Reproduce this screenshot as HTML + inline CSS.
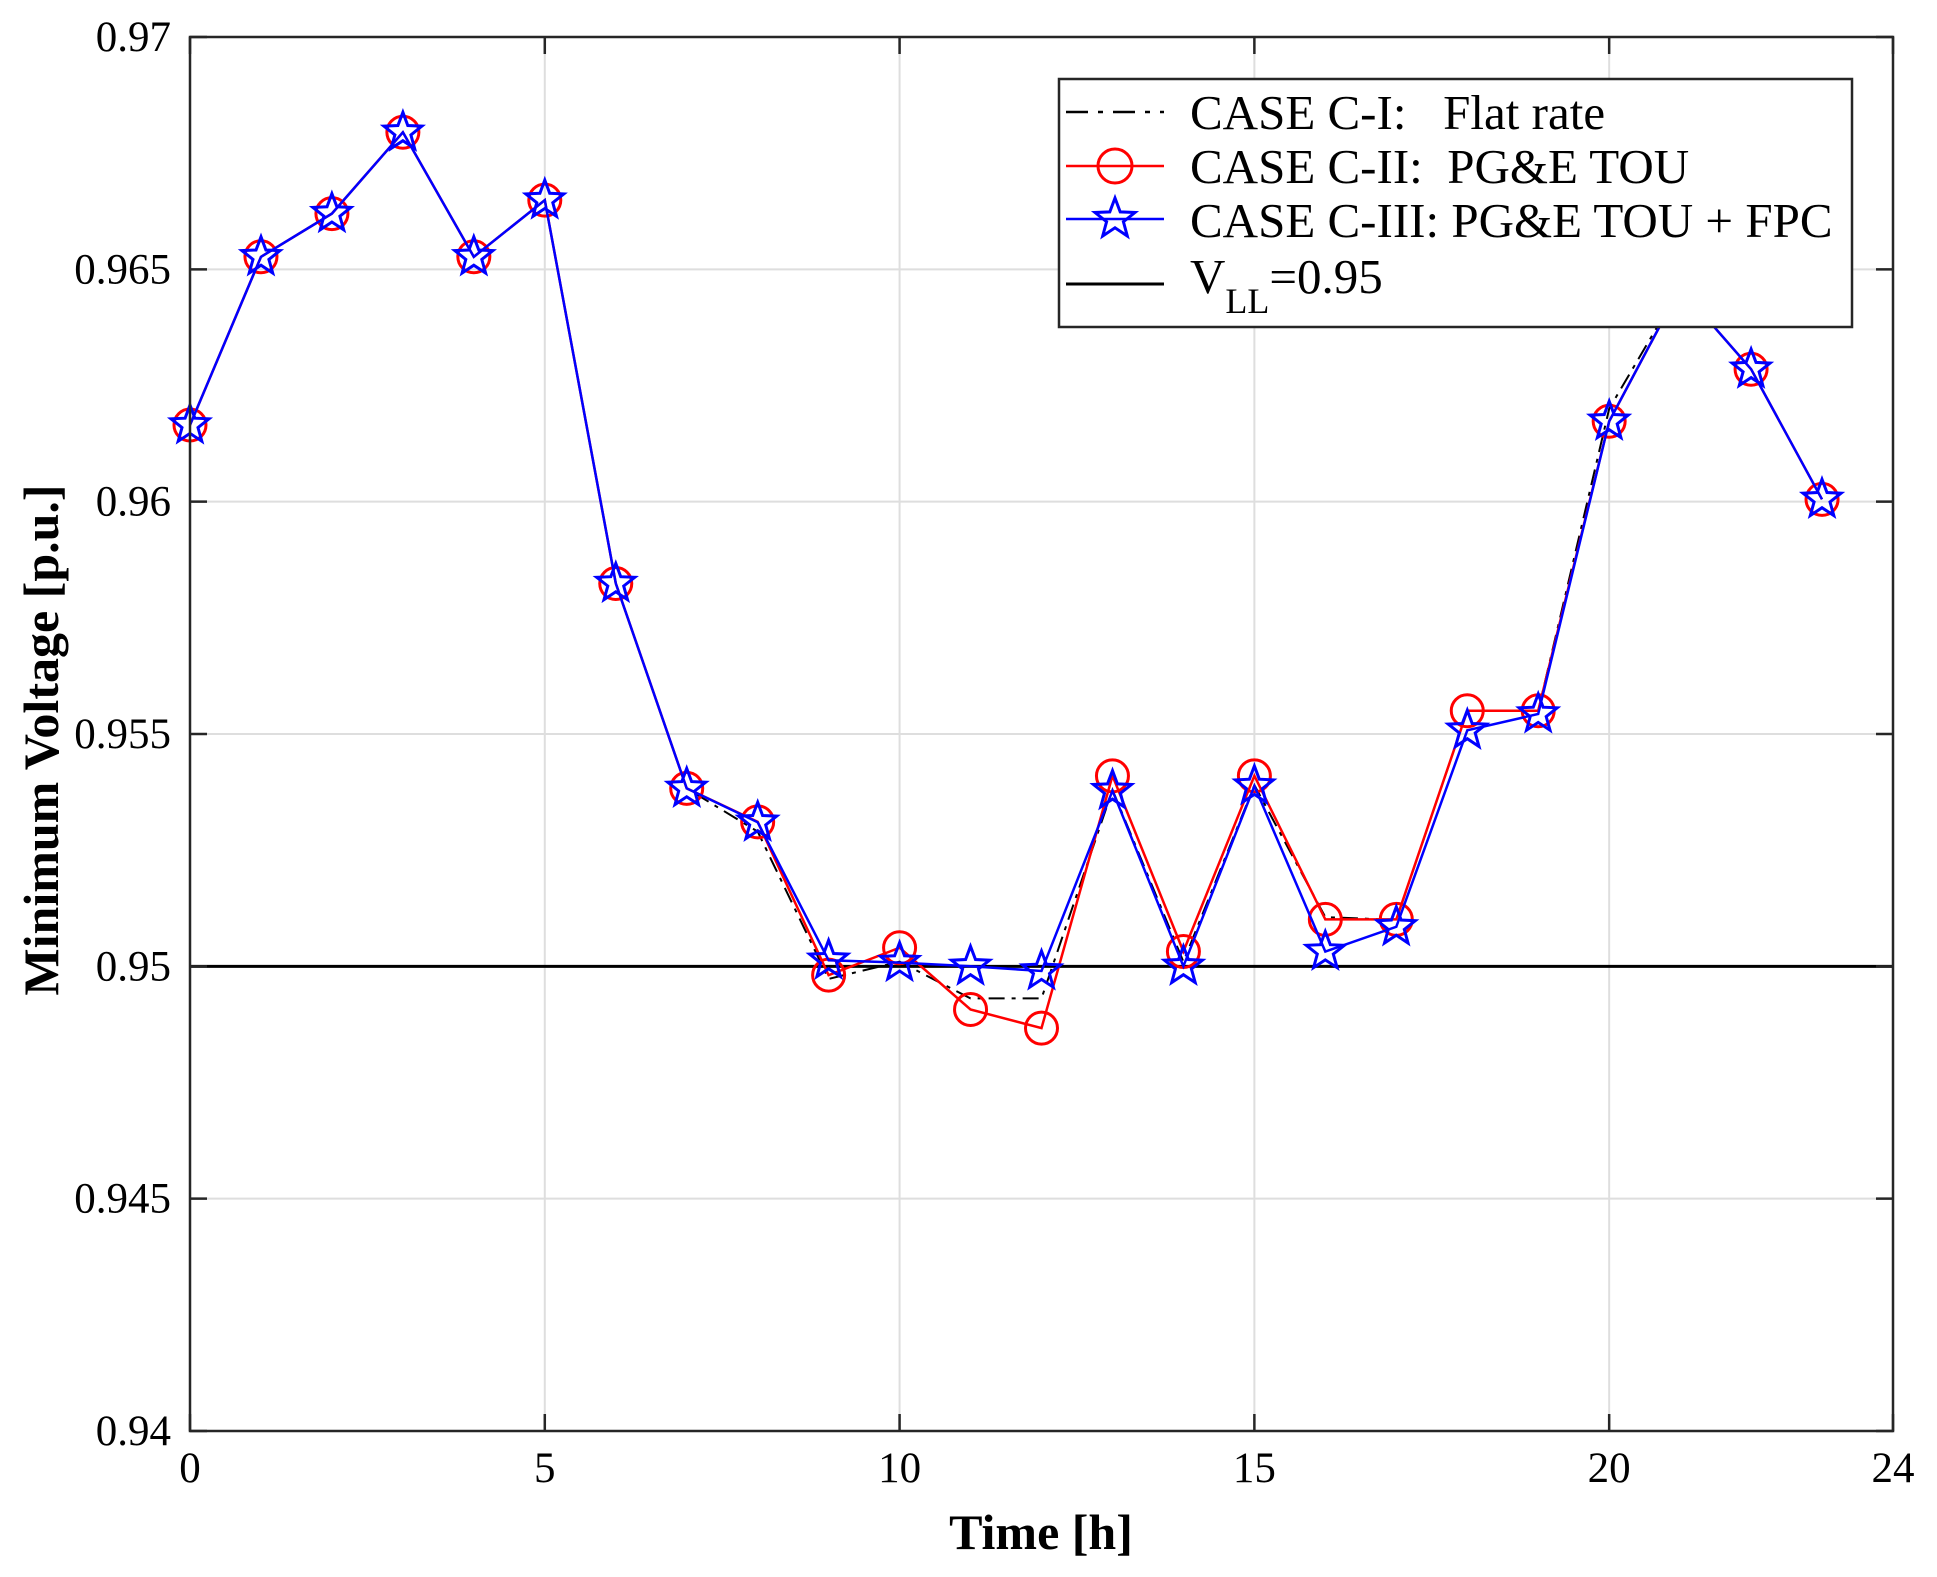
<!DOCTYPE html>
<html><head><meta charset="utf-8"><style>
html,body{margin:0;padding:0;background:#fff;}
svg{display:block;font-family:"Liberation Serif",serif;}
</style></head><body>
<svg id="chart" width="1937" height="1577" viewBox="0 0 1937 1577" xmlns="http://www.w3.org/2000/svg">
<rect width="1937" height="1577" fill="#fff"/>
<g id="grid"></g>
<g id="series"></g>
<rect x="190" y="37" width="1703" height="1394" fill="none" stroke="#262626" stroke-width="2.5"/>
<g id="ticks"></g>
<text x="1041" y="1549" font-size="50" font-weight="bold" text-anchor="middle">Time [h]</text>
<text transform="translate(58,740) rotate(-90)" font-size="50" font-weight="bold" text-anchor="middle">Minimum Voltage [p.u.]</text>
<g>
<rect x="1059" y="79" width="793" height="248" fill="#fff" stroke="#262626" stroke-width="2.5"/>
<g>
<line x1="1066" y1="112" x2="1164" y2="112" stroke="#000" stroke-width="2.5" stroke-dasharray="22,10,5,10"/>
<text x="1190" y="129" font-size="49" xml:space="preserve">CASE C-I:   Flat rate</text></g>
<g>
<line x1="1066" y1="166" x2="1164" y2="166" stroke="#f00" stroke-width="2.5"/>
<circle cx="1115" cy="166" r="17" fill="none" stroke="#f00" stroke-width="3"/>
<text x="1190" y="183" font-size="49" xml:space="preserve">CASE C-II:  PG&amp;E TOU</text></g>
<g>
<line x1="1066" y1="219" x2="1164" y2="219" stroke="#00f" stroke-width="2.5"/>
<path id="legstar" fill="none" stroke="#00f" stroke-width="3"/>
<text x="1190" y="237" font-size="49">CASE C-III: PG&amp;E TOU + FPC</text></g>
<g>
<line x1="1066" y1="284" x2="1164" y2="284" stroke="#000" stroke-width="3"/>
<text x="1190" y="293" font-size="49">V<tspan font-size="36" dy="20">LL</tspan><tspan dy="-20">=0.95</tspan></text></g>
</g>
</svg>
<script>
const hours=[0,1,2,3,4,5,6,7,8,9,10,11,12,13,14,15,16,17,18,19,20,21,22,23];
const caseC1=[0.96165,0.96527,0.9662,0.96795,0.96527,0.96649,0.95824,0.95383,0.9529,0.94973,0.9501,0.94931,0.94931,0.9538,0.9501,0.9539,0.95106,0.951,0.9555,0.9555,0.962,0.9646,0.96285,0.96005];
const caseC2=[0.96165,0.96527,0.9662,0.96795,0.96527,0.96649,0.95824,0.95383,0.95311,0.94981,0.9504,0.94907,0.94867,0.9541,0.95032,0.9541,0.95101,0.95101,0.9555,0.9555,0.96173,0.9646,0.96285,0.96005];
const caseC3=[0.96165,0.96527,0.9662,0.96795,0.96527,0.96649,0.95824,0.95383,0.9531,0.95013,0.95008,0.95,0.9499,0.95378,0.95,0.95388,0.95032,0.95085,0.95508,0.95543,0.96173,0.9646,0.96285,0.96005];
const vll=0.95;
const xTicks=[0,5,10,15,20,24];
const yTicks=[0.94,0.945,0.95,0.955,0.96,0.965,0.97];
const yTickLabels=["0.94","0.945","0.95","0.955","0.96","0.965","0.97"];

const NS="http://www.w3.org/2000/svg";
const X0=190,X1=1893,Y0=1431,Y1=37;
function xs(v){return X0+(v-0)/(24-0)*(X1-X0);}
function ys(v){return Y0-(v-0.94)/(0.97-0.94)*(Y0-Y1);}
function mk(tag,attrs,parent){const e=document.createElementNS(NS,tag);for(const k in attrs)e.setAttribute(k,attrs[k]);parent.appendChild(e);return e;}
function starPath(cx,cy,R){const r=R*0.42;let d="";for(let i=0;i<10;i++){const a=-Math.PI/2+i*Math.PI/5;const rr=i%2?r:R;d+=(i?"L":"M")+(cx+rr*Math.cos(a)).toFixed(1)+","+(cy+rr*Math.sin(a)).toFixed(1);}return d+"Z";}
document.getElementById('legstar').setAttribute('d',starPath(1115,219,21));

const grid=document.getElementById('grid'),ticks=document.getElementById('ticks'),ser=document.getElementById('series');
xTicks.forEach(t=>{
  const x=xs(t);
  if(t>0&&t<24){const g=mk('line',{x1:x,y1:Y1,x2:x,y2:Y0,stroke:'#dedede','stroke-width':2},grid);
  
  }
  const a=mk('line',{x1:x,y1:Y0,x2:x,y2:Y0-17,stroke:'#262626','stroke-width':2.5},ticks);
  
  
  const b=mk('line',{x1:x,y1:Y1,x2:x,y2:Y1+17,stroke:'#262626','stroke-width':2.5},ticks);
  
  
  const l=mk('text',{x:x,y:1482,'font-size':43,'text-anchor':'middle'},ticks);l.textContent=String(t);
  
  
});
yTicks.forEach((t,i)=>{
  const y=ys(t);
  if(i>0&&i<yTicks.length-1){const g=mk('line',{x1:X0,y1:y,x2:X1,y2:y,stroke:'#dedede','stroke-width':2},grid);
  
  }
  const a=mk('line',{x1:X0,y1:y,x2:X0+17,y2:y,stroke:'#262626','stroke-width':2.5},ticks);
  
  
  const b=mk('line',{x1:X1,y1:y,x2:X1-17,y2:y,stroke:'#262626','stroke-width':2.5},ticks);
  
  
  const l=mk('text',{x:171,y:y+14,'font-size':43,'text-anchor':'end'},ticks);l.textContent=yTickLabels[i];
  
  
});
const vl=mk('line',{x1:X0,y1:ys(vll),x2:X1,y2:ys(vll),stroke:'#000','stroke-width':3},ser);


function pts(arr){return arr.map((v,i)=>xs(hours[i]).toFixed(1)+","+ys(v).toFixed(1)).join(" ");}
const l1=mk('polyline',{points:pts(caseC1),fill:'none',stroke:'#000','stroke-width':2,'stroke-dasharray':'16,7,4,7'},ser);


const l2=mk('polyline',{points:pts(caseC2),fill:'none',stroke:'#f00','stroke-width':2.5},ser);


caseC2.forEach((v,i)=>{const c=mk('circle',{cx:xs(hours[i]),cy:ys(v),r:16,fill:'none',stroke:'#f00','stroke-width':3},ser);
  
  });
const l3=mk('polyline',{points:pts(caseC3),fill:'none',stroke:'#00f','stroke-width':2.5},ser);


caseC3.forEach((v,i)=>{const s=mk('path',{d:starPath(xs(hours[i]),ys(v),20),fill:'none',stroke:'#00f','stroke-width':3},ser);
  
  });
</script>
</body></html>
